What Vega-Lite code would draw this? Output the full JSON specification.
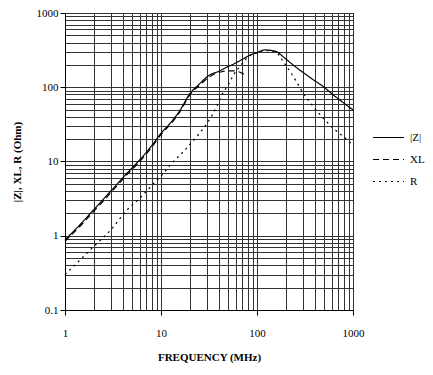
{
  "$schema": "https://vega.github.io/schema/vega-lite/v6.json",
  "width": 288,
  "height": 297,
  "autosize": {"type": "none"},
  "padding": {"left": 65, "top": 13, "right": 80, "bottom": 65},
  "background": "white",
  "config": {
    "view": {"stroke": "black", "strokeWidth": 1},
    "font": "Liberation Serif",
    "axis": {
      "labelFont": "Liberation Serif",
      "labelFontSize": 11,
      "labelColor": "black",
      "titleFont": "Liberation Serif",
      "titleFontSize": 11,
      "titleFontWeight": "bold",
      "titleColor": "black",
      "domainColor": "black",
      "tickColor": "black",
      "gridColor": "#333333",
      "gridWidth": 1,
      "gridOpacity": 1
    },
    "legend": {
      "labelFont": "Liberation Serif",
      "labelFontSize": 11,
      "labelColor": "black"
    }
  },
  "data": {
    "values": [
      {"f": 1, "v": 0.88, "s": "|Z|"},
      {"f": 1.5, "v": 1.5, "s": "|Z|"},
      {"f": 2, "v": 2.25, "s": "|Z|"},
      {"f": 3, "v": 4.0, "s": "|Z|"},
      {"f": 4.4, "v": 6.9, "s": "|Z|"},
      {"f": 6, "v": 10.5, "s": "|Z|"},
      {"f": 8, "v": 16.3, "s": "|Z|"},
      {"f": 10, "v": 24, "s": "|Z|"},
      {"f": 12.5, "v": 33, "s": "|Z|"},
      {"f": 15.8, "v": 49, "s": "|Z|"},
      {"f": 20, "v": 82, "s": "|Z|"},
      {"f": 25, "v": 110, "s": "|Z|"},
      {"f": 32, "v": 146, "s": "|Z|"},
      {"f": 39, "v": 162, "s": "|Z|"},
      {"f": 50, "v": 190, "s": "|Z|"},
      {"f": 59, "v": 210, "s": "|Z|"},
      {"f": 70, "v": 237, "s": "|Z|"},
      {"f": 85, "v": 272, "s": "|Z|"},
      {"f": 100, "v": 294, "s": "|Z|"},
      {"f": 121, "v": 318, "s": "|Z|"},
      {"f": 140, "v": 313, "s": "|Z|"},
      {"f": 160, "v": 301, "s": "|Z|"},
      {"f": 187, "v": 258, "s": "|Z|"},
      {"f": 204, "v": 235, "s": "|Z|"},
      {"f": 250, "v": 190, "s": "|Z|"},
      {"f": 329, "v": 146, "s": "|Z|"},
      {"f": 400, "v": 122, "s": "|Z|"},
      {"f": 491, "v": 102, "s": "|Z|"},
      {"f": 600, "v": 82, "s": "|Z|"},
      {"f": 732, "v": 67, "s": "|Z|"},
      {"f": 1000, "v": 49.5, "s": "|Z|"},
      {"f": 1, "v": 0.84, "s": "XL"},
      {"f": 1.5, "v": 1.43, "s": "XL"},
      {"f": 2, "v": 2.14, "s": "XL"},
      {"f": 3, "v": 3.8, "s": "XL"},
      {"f": 4.4, "v": 6.6, "s": "XL"},
      {"f": 6, "v": 10, "s": "XL"},
      {"f": 8, "v": 15.5, "s": "XL"},
      {"f": 10, "v": 23, "s": "XL"},
      {"f": 12.5, "v": 31.5, "s": "XL"},
      {"f": 15.8, "v": 47, "s": "XL"},
      {"f": 20, "v": 79, "s": "XL"},
      {"f": 25, "v": 105, "s": "XL"},
      {"f": 32, "v": 138, "s": "XL"},
      {"f": 38, "v": 155, "s": "XL"},
      {"f": 44, "v": 163, "s": "XL"},
      {"f": 50, "v": 166, "s": "XL"},
      {"f": 57, "v": 166, "s": "XL"},
      {"f": 64, "v": 162, "s": "XL"},
      {"f": 71, "v": 153, "s": "XL"},
      {"f": 78, "v": 140, "s": "XL"},
      {"f": 1, "v": 0.3, "s": "R"},
      {"f": 1.5, "v": 0.5, "s": "R"},
      {"f": 2, "v": 0.72, "s": "R"},
      {"f": 3, "v": 1.2, "s": "R"},
      {"f": 4.4, "v": 2.2, "s": "R"},
      {"f": 6, "v": 3.2, "s": "R"},
      {"f": 8.7, "v": 5.3, "s": "R"},
      {"f": 10.6, "v": 6.9, "s": "R"},
      {"f": 12.4, "v": 8.9, "s": "R"},
      {"f": 17, "v": 13.5, "s": "R"},
      {"f": 23.5, "v": 21.6, "s": "R"},
      {"f": 31, "v": 34.4, "s": "R"},
      {"f": 38, "v": 54.7, "s": "R"},
      {"f": 43, "v": 78.7, "s": "R"},
      {"f": 50, "v": 107, "s": "R"},
      {"f": 57, "v": 146, "s": "R"},
      {"f": 66, "v": 189, "s": "R"},
      {"f": 75, "v": 233, "s": "R"},
      {"f": 85, "v": 268, "s": "R"},
      {"f": 100, "v": 290, "s": "R"},
      {"f": 121, "v": 312, "s": "R"},
      {"f": 140, "v": 307, "s": "R"},
      {"f": 160, "v": 292, "s": "R"},
      {"f": 188, "v": 221, "s": "R"},
      {"f": 239, "v": 139, "s": "R"},
      {"f": 304, "v": 83, "s": "R"},
      {"f": 386, "v": 54.7, "s": "R"},
      {"f": 491, "v": 38.2, "s": "R"},
      {"f": 623, "v": 28, "s": "R"},
      {"f": 793, "v": 21.6, "s": "R"},
      {"f": 1000, "v": 16.7, "s": "R"}
    ]
  },
  "mark": {"type": "line", "color": "black", "strokeWidth": 1.2, "interpolate": "monotone"},
  "encoding": {
    "x": {
      "field": "f",
      "type": "quantitative",
      "scale": {"type": "log", "domain": [1, 1000], "nice": false},
      "axis": {
        "title": "FREQUENCY (MHz)",
        "values": [1,2,3,4,5,6,7,8,9,10,20,30,40,50,60,70,80,90,100,200,300,400,500,600,700,800,900,1000],
        "labelExpr": "indexof([1,10,100,1000], datum.value) >= 0 ? datum.label : ''",
        "format": "~g",
        "labelOverlap": false,
        "labelFlush": false,
        "tickSize": 5,
        "tickOpacity": {"condition": {"test": "indexof([1,10,100,1000], datum.value) >= 0", "value": 1}, "value": 0},
        "labelPadding": 12,
        "titlePadding": 13,
        "grid": true
      }
    },
    "y": {
      "field": "v",
      "type": "quantitative",
      "scale": {"type": "log", "domain": [0.1, 1000], "nice": false},
      "axis": {
        "title": "|Z|, XL, R (Ohm)",
        "values": [0.1,0.2,0.3,0.4,0.5,0.6,0.7,0.8,0.9,1,2,3,4,5,6,7,8,9,10,20,30,40,50,60,70,80,90,100,200,300,400,500,600,700,800,900,1000],
        "labelExpr": "indexof([0.1,1,10,100,1000], datum.value) >= 0 ? datum.label : ''",
        "format": "~g",
        "labelOverlap": false,
        "labelFlush": false,
        "tickSize": 5,
        "tickOpacity": {"condition": {"test": "indexof([0.1,1,10,100,1000], datum.value) >= 0", "value": 1}, "value": 0},
        "labelPadding": 2,
        "titlePadding": 14,
        "grid": true
      }
    },
    "strokeDash": {
      "field": "s",
      "type": "nominal",
      "scale": {"domain": ["|Z|", "XL", "R"], "range": [[1, 0], [6, 4], [2, 4]]},
      "legend": {
        "title": null,
        "orient": "none",
        "legendX": 307,
        "legendY": 108,
        "symbolType": "stroke",
        "symbolSize": 961,
        "symbolStrokeWidth": 1.2,
        "symbolStrokeColor": "black",
        "rowPadding": -10,
        "labelOffset": 5
      }
    }
  }
}
